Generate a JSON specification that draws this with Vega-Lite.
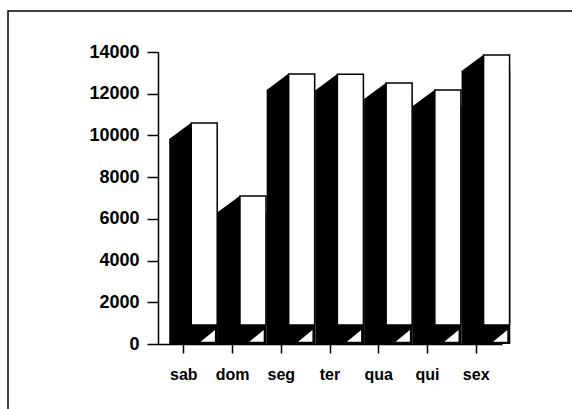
{
  "$schema": "https://vega.github.io/schema/vega-lite/v6.json",
  "autosize": {"type": "none"},
  "padding": {"left": 8, "top": 11, "right": 0, "bottom": 0},
  "width": 564,
  "height": 398,
  "background": "white",
  "config": {
    "view": {"stroke": "black", "strokeWidth": 1.5, "strokeDash": [564, 962, 400, 0]},
    "axis": {
      "labelFont": "Liberation Sans",
      "labelFontWeight": "bold",
      "labelColor": "black",
      "domainColor": "black",
      "tickColor": "black",
      "domainWidth": 1.5,
      "tickWidth": 1.5,
      "grid": false,
      "title": null
    }
  },
  "data": {
    "values": [
      {"dia": "sab", "valor": 10600},
      {"dia": "dom", "valor": 7100},
      {"dia": "seg", "valor": 12950},
      {"dia": "ter", "valor": 12930},
      {"dia": "qua", "valor": 12510},
      {"dia": "qui", "valor": 12180},
      {"dia": "sex", "valor": 13860}
    ]
  },
  "encoding": {
    "x": {
      "field": "dia",
      "type": "nominal",
      "sort": null,
      "scale": {"range": [150, 494], "paddingInner": 0, "paddingOuter": 0.03},
      "axis": {"orient": "bottom", "offset": -65, "labelAngle": 0, "labelFontSize": 16, "tickSize": 9, "labelPadding": 13}
    },
    "y": {
      "field": "valor",
      "type": "quantitative",
      "scale": {"domain": [0, 14000], "range": [333, 41], "nice": false},
      "axis": {"orient": "left", "offset": -150, "values": [0, 2000, 4000, 6000, 8000, 10000, 12000, 14000], "format": "d", "labelFontSize": 18, "tickSize": 11, "labelPadding": 8}
    }
  },
  "layer": [
    {
      "mark": {"type": "bar", "color": "black", "width": 48.7, "xOffset": 9.75, "yOffset": 16, "y2Offset": 0},
      "encoding": {"y2": {"datum": 0}}
    },
    {
      "mark": {"type": "point", "shape": "M -1 0.74 L 1 -0.74 L 1.1 -0.74 L 1.1 0.8 L -1 0.8 Z", "filled": true, "color": "black", "opacity": 1, "strokeWidth": 0, "size": 471, "xOffset": -3.8, "yOffset": 8}
    },
    {
      "mark": {"type": "bar", "fill": "white", "stroke": "black", "strokeWidth": 1.5, "width": 26, "xOffset": 20.4, "y2Offset": -19},
      "encoding": {"y2": {"datum": 0}}
    },
    {
      "mark": {"type": "point", "shape": "M -1 0.82 L 1 -0.82 L 1 0.82 Z", "filled": true, "color": "white", "opacity": 1, "strokeWidth": 0, "size": 204, "xOffset": 24, "yOffset": -8.2},
      "encoding": {"y": {"datum": 0, "type": "quantitative"}}
    }
  ]
}
